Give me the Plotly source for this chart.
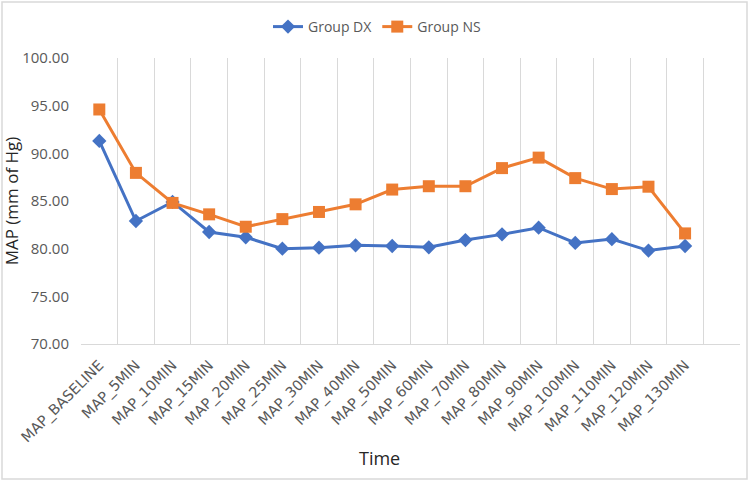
import plotly.graph_objects as go

categories = ["MAP_BASELINE", "MAP_5MIN", "MAP_10MIN", "MAP_15MIN", "MAP_20MIN",
              "MAP_25MIN", "MAP_30MIN", "MAP_40MIN", "MAP_50MIN", "MAP_60MIN",
              "MAP_70MIN", "MAP_80MIN", "MAP_90MIN", "MAP_100MIN", "MAP_110MIN",
              "MAP_120MIN", "MAP_130MIN"]
extra_category = [" "]
group_dx = [91.3, 82.9, 84.9, 81.75, 81.2, 80.0, 80.1, 80.35, 80.28, 80.14,
            80.9, 81.5, 82.2, 80.6, 81.0, 79.8, 80.28]
group_ns = [94.6, 87.95, 84.8, 83.6, 82.3, 83.1, 83.85, 84.65, 86.2, 86.55,
            86.55, 88.45, 89.55, 87.4, 86.25, 86.5, 81.6]
y_ticks = [70, 75, 80, 85, 90, 95, 100]

fig = go.Figure()
fig.add_trace(go.Scatter(x=categories, y=group_dx, name="Group DX", mode="lines+markers",
                         line=dict(color="#4472C4", width=3),
                         marker=dict(symbol="diamond", size=11, color="#4472C4")))
fig.add_trace(go.Scatter(x=categories, y=group_ns, name="Group NS", mode="lines+markers",
                         line=dict(color="#ED7D31", width=3),
                         marker=dict(symbol="square", size=12, color="#ED7D31")))

L, R, T, B = 81, 10, 58, 138
W, H = 750, 482
pw, ph = W - L - R, H - T - B

fig.update_layout(
    width=W, height=H,
    margin=dict(l=L, r=R, t=T, b=B, autoexpand=False),
    paper_bgcolor="white", plot_bgcolor="white",
    font=dict(family="Open Sans", color="#595959"),
    legend=dict(orientation="h", x=(377 - L) / pw, xanchor="center",
                y=(H - B - 27) / ph, yanchor="middle",
                font=dict(size=14, color="#595959"),
                bgcolor="rgba(0,0,0,0)", tracegroupgap=0),
    xaxis=dict(type="category", categoryorder="array",
               categoryarray=categories + extra_category,
               range=[-0.5, len(categories) + 0.5], automargin=False,
               tickson="boundaries", showgrid=True, gridcolor="#D9D9D9", gridwidth=1,
               ticks="", tickangle=-45, ticklabelstandoff=6,
               tickfont=dict(family="DejaVu Sans", size=14.5, color="#595959"),
               showline=True, linecolor="#D9D9D9", linewidth=1,
               zeroline=False),
    yaxis=dict(range=[70, 100], tickvals=y_ticks, automargin=False,
               ticktext=[f"{v:.2f}" for v in y_ticks],
               showgrid=False, zeroline=False, ticks="", ticklabelstandoff=11,
               tickfont=dict(size=15, color="#595959"),
               title=dict(text="MAP (mm of Hg)", font=dict(size=17, color="#262626"), standoff=6)),
    annotations=[dict(text="Time", xref="paper", yref="paper",
                      x=(379 - L) / pw, y=-(458 - (H - B)) / ph,
                      xanchor="center", yanchor="middle", showarrow=False,
                      font=dict(size=18, color="#262626"))],
    shapes=[dict(type="rect", xref="paper", yref="paper",
                 x0=-(L - 2) / pw, x1=(W - L - 3) / pw,
                 y0=-(B - 3) / ph, y1=(H - B - 2) / ph,
                 line=dict(color="#D9D9D9", width=1.5))],
)

fig.write_html("out.html")
